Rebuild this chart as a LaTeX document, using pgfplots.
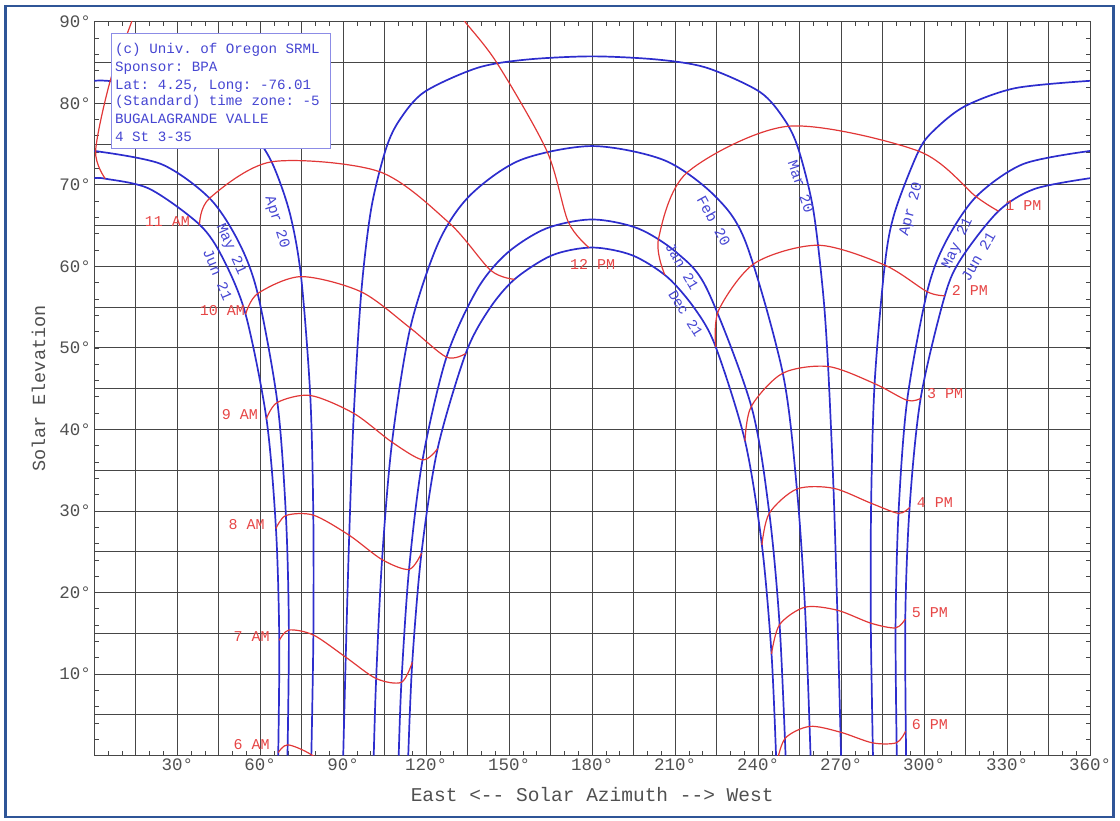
\documentclass[border=0pt]{standalone}
\usepackage{fontspec}
\setmainfont{Liberation Serif}
\setmonofont{Liberation Mono}
\usepackage{pgfplots}
\pgfplotsset{compat=1.18}
\definecolor{bl}{RGB}{45,45,205}
\definecolor{rd}{RGB}{225,55,55}
\definecolor{rdt}{RGB}{230,70,70}
\definecolor{blt}{RGB}{70,70,210}
\definecolor{legb}{RGB}{140,140,230}
\definecolor{bord}{RGB}{47,85,151}
\definecolor{gridc}{RGB}{70,70,70}
\definecolor{tickc}{RGB}{80,80,80}
\begin{document}
\ttfamily
\begin{tikzpicture}
\useasboundingbox (-94.3pt,-65.3pt) rectangle (1025.7pt,755.7pt);
\begin{axis}[
  at={(0pt,0pt)}, anchor=south west,
  scale only axis, width=995.7pt, height=734pt,
  xmin=0, xmax=360, ymin=0, ymax=90,
  xtick={0,15,...,360},
  xticklabels={,,30°,,60°,,90°,,120°,,150°,,180°,,210°,,240°,,270°,,300°,,330°,,360°},
  ytick={0,5,...,90},
  yticklabels={,,10°,,20°,,30°,,40°,,50°,,60°,,70°,,80°,,90°},
  minor xtick={0,5,...,360},
  minor ytick={0,2,...,90},
  grid=major,
  major grid style={draw=gridc, line width=0.9pt},
  major tick length=0pt, minor tick length=4.5pt,
  tick style={draw=gridc, line width=0.8pt},
  axis line style={draw=gridc, line width=1pt},
  tick label style={font=\ttfamily\fontsize{17.5}{20}\selectfont, text=tickc},
  /pgf/number format/assume math mode=true,
  xlabel={East <\mbox{-}\mbox{-} Solar Azimuth \mbox{-}\mbox{-}> West},
  ylabel={Solar Elevation},
  xlabel style={at={(axis description cs:0.5,-0.0535)}, anchor=center, font=\ttfamily\fontsize{19.5}{22}\selectfont, text=tickc},
  ylabel style={at={(axis description cs:-0.056,0.5)}, anchor=center, font=\ttfamily\fontsize{18.5}{22}\selectfont, text=tickc},
  blueline/.style={color=bl, line width=1.7pt, smooth, mark=none},
  redline/.style={color=rd, line width=1.2pt, smooth, mark=none},
]
% ---- date curves (blue) ----
% Dec 21
\addplot[blueline] coordinates {(113.51,0) (114.96,11.44) (118.29,24.83) (124.13,37.65) (134.28,49.31) (142.62,54.68) (151.93,58.41) (165.53,61.36) (180,62.31) (194.47,61.36) (207.18,58.69) (217.38,54.68) (224.67,50.13) (235.26,38.61) (241.37,25.85) (244.85,12.49) (246.49,0)};
% Jan 21
\addplot[blueline] coordinates {(110.06,0) (111.04,9.00) (113.79,22.84) (118.69,36.28) (127.34,48.87) (138.43,57.18) (149.22,61.62) (163.35,64.64) (180,65.75) (196.65,64.64) (210.78,61.62) (221.57,57.18) (237.55,42.84) (244.06,29.74) (247.77,16.07) (249.94,0)};
% Feb 20
\addplot[blueline] coordinates {(101.03,0) (101.91,9.46) (104.04,24.04) (107.65,38.44) (114.23,52.44) (124.43,62.91) (135.72,68.66) (153.98,73.02) (180,74.75) (206.02,73.02) (224.28,68.66) (235.57,62.91) (248.93,46.90) (254.03,32.70) (256.95,18.21) (258.97,0)};
% Mar 20
\addplot[blueline] coordinates {(90,0) (90.91,12.08) (92.17,27.03) (93.83,41.97) (96.54,56.87) (100.14,67.12) (105.46,74.42) (110.44,77.98) (119.37,81.39) (138.51,84.34) (156.17,85.35) (180,85.75) (203.83,85.35) (221.49,84.34) (240.63,81.39) (249.56,77.98) (254.54,74.42) (259.86,67.12) (263.46,56.87) (265.31,47.72) (267.26,32.79) (268.63,17.84) (270,0)};
% Apr 20
\addplot[blueline] coordinates {(0,82.75) (5.73,82.72) (26.90,81.86) (45.25,79.63) (56.28,76.72) (64.10,72.82) (70.64,66.58) (74.76,58.74) (78.08,44.17) (79.18,29.50) (79.21,14.80) (78.47,0)};
\addplot[blueline] coordinates {(360,82.75) (333.10,81.86) (314.75,79.63) (303.72,76.72) (298.02,74.13) (289.36,66.58) (285.79,60.15) (282.12,45.62) (280.87,30.95) (280.75,16.25) (281.53,0)};
% May 21
\addplot[blueline] coordinates {(0,74.15) (24.13,72.55) (41.68,68.35) (52.24,62.96) (59.07,56.66) (66.20,43.32) (69.28,29.45) (70.35,15.41) (69.85,0)};
\addplot[blueline] coordinates {(360,74.15) (335.87,72.55) (318.83,68.54) (307.76,62.96) (301.13,56.89) (293.89,43.57) (290.76,29.72) (289.70,15.67) (290.15,0)};
% Jun 21
\addplot[blueline] coordinates {(0,70.81) (3.96,70.75) (19.99,69.50) (38.05,65.12) (46.45,61.02) (54.70,54.13) (62.24,41.32) (65.68,27.85) (66.88,14.14) (66.49,0)};
\addplot[blueline] coordinates {(360,70.81) (340.01,69.50) (326.91,66.77) (313.55,61.02) (307.51,56.40) (298.77,43.81) (294.77,30.43) (293.21,16.75) (293.51,0)};
% ---- hour lines (red) ----
\addplot[redline] coordinates {(66.53,0.39) (69.95,1.33) (78.48,0.12) (89.79,-2.88)};
\addplot[redline] coordinates {(66.88,14.14) (70.35,15.41) (79.21,14.80) (90.91,12.08) (101.91,9.46) (111.04,9.00) (114.96,11.44)};
\addplot[redline] coordinates {(65.68,27.85) (69.28,29.45) (79.18,29.50) (92.17,27.03) (104.04,24.04) (113.79,22.84) (118.29,24.83)};
\addplot[redline] coordinates {(62.24,41.32) (66.20,43.32) (78.08,44.17) (93.83,41.97) (107.65,38.44) (118.69,36.28) (124.13,37.65)};
\addplot[redline] coordinates {(54.70,54.13) (59.07,56.66) (74.76,58.74) (96.54,56.87) (114.23,52.44) (127.34,48.87) (134.28,49.31)};
\addplot[redline] coordinates {(38.05,65.12) (41.68,68.35) (64.10,72.82) (102.93,71.63) (128.32,65.32) (143.33,59.51) (151.93,58.41)};
\addplot[redline] coordinates {(3.96,70.75) (0.48,74.15) (5.73,82.72) (13.5,90) (16,93)};
\addplot[redline] coordinates {(178.84,62.30) (171.35,65.46) (163.68,74.11) (145.73,84.86) (134,90) (128,92.5)};
\addplot[redline] coordinates {(206.28,58.95) (204.00,63.38) (214.36,71.51) (250.94,77.18) (298.02,74.13) (318.83,68.54) (326.91,66.77)};
\addplot[redline] coordinates {(224.67,50.13) (225.78,54.65) (238.80,60.39) (261.76,62.59) (285.79,60.15) (301.13,56.89) (307.51,56.40)};
\addplot[redline] coordinates {(235.26,38.61) (237.55,42.84) (248.93,46.90) (265.31,47.72) (282.12,45.62) (293.89,43.57) (298.77,43.81)};
\addplot[redline] coordinates {(241.37,25.85) (244.06,29.74) (254.03,32.70) (267.26,32.79) (280.87,30.95) (290.76,29.72) (294.77,30.43)};
\addplot[redline] coordinates {(244.85,12.49) (247.77,16.07) (256.95,18.21) (268.63,17.84) (280.75,16.25) (289.70,15.67) (293.21,16.75)};
\addplot[redline] coordinates {(246.58,-1.15) (249.76,2.12) (258.68,3.59) (269.79,2.88) (281.42,1.57) (290.04,1.59) (293.30,2.99)};
% ---- hour labels ----
\begin{scope}[every node/.style={text=rdt, inner sep=0pt, font=\ttfamily\fontsize{15}{17}\selectfont}]
\node[anchor=east] at (axis cs:63.5,1.4) {6 AM};
\node[anchor=east] at (axis cs:63.5,14.65) {7 AM};
\node[anchor=east] at (axis cs:61.7,28.3) {8 AM};
\node[anchor=east] at (axis cs:59.2,41.8) {9 AM};
\node[anchor=east] at (axis cs:54.5,54.6) {10 AM};
\node[anchor=east] at (axis cs:34.6,65.5) {11 AM};
\node[anchor=west] at (axis cs:172,60.2) {12 PM};
\node[anchor=west] at (axis cs:329.3,67.4) {1 PM};
\node[anchor=west] at (axis cs:310,57.1) {2 PM};
\node[anchor=west] at (axis cs:301,44.4) {3 PM};
\node[anchor=west] at (axis cs:297.3,31.0) {4 PM};
\node[anchor=west] at (axis cs:295.5,17.5) {5 PM};
\node[anchor=west] at (axis cs:295.5,3.85) {6 PM};
\end{scope}
% ---- date labels ----
\begin{scope}[every node/.style={text=blt, inner sep=0pt, font=\ttfamily\fontsize{15}{17}\selectfont}]
\node[rotate=-65.6] at (axis cs:49.3,62.1) {May 21};
\node[rotate=-67] at (axis cs:44.6,59.0) {Jun 21};
\node[rotate=-73] at (axis cs:65.9,65.4) {Apr 20};
\node[rotate=-61] at (axis cs:224.1,65.6) {Feb 20};
\node[rotate=-60,font=\ttfamily\fontsize{14.5}{17}\selectfont] at (axis cs:212.5,60.0) {Jan 21};
\node[rotate=-58,font=\ttfamily\fontsize{14.5}{17}\selectfont] at (axis cs:213.8,54.2) {Dec 21};
\node[rotate=-71] at (axis cs:255.5,69.8) {Mar 20};
\node[rotate=74.6] at (axis cs:295.5,67.0) {Apr 20};
\node[rotate=65] at (axis cs:312.2,62.8) {May 21};
\node[rotate=60] at (axis cs:319.6,61.2) {Jun 21};
\end{scope}
% ---- info box ----
\draw[draw=legb, fill=white, line width=0.8pt] (axis cs:6.04,74.47) rectangle (axis cs:85.2,88.57);
\begin{scope}[every node/.style={text=blt, inner sep=0pt, anchor=west, font=\ttfamily\fontsize{14.2}{16}\selectfont}]
\node at (axis cs:7.48,86.53) {(c) Univ. of Oregon SRML};
\node at (axis cs:7.48,84.28) {Sponsor: BPA};
\node at (axis cs:7.48,82.11) {Lat: 4.25, Long: -76.01};
\node at (axis cs:7.48,80.19) {(Standard) time zone: -5};
\node at (axis cs:7.48,78.03) {BUGALAGRANDE VALLE};
\node at (axis cs:7.48,75.90) {4 St 3-35};
\end{scope}
\end{axis}
\draw[draw=bord, line width=2.5pt] (-88.6pt,-61.3pt) rectangle (1019pt,749.7pt);
\end{tikzpicture}
\end{document}
